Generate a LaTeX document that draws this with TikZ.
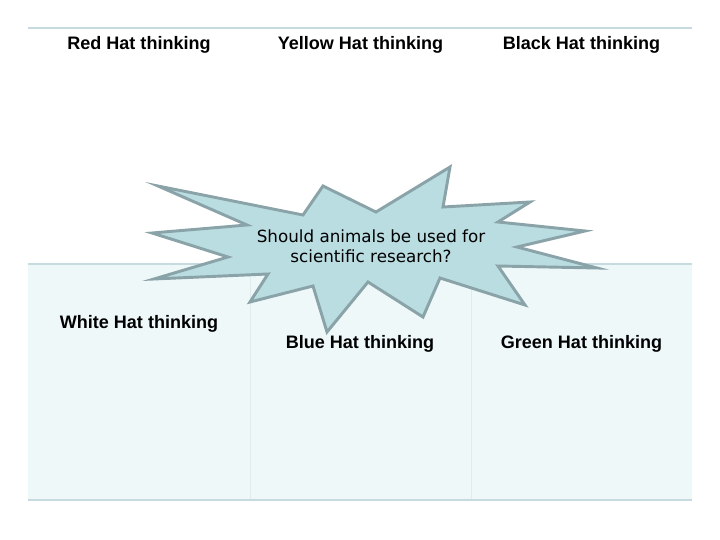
\documentclass[tikz,border=0pt]{standalone}
\usepackage{fontspec}
\setmainfont{Liberation Sans}
\newfontfamily\bubblefont{DejaVu Sans}
\definecolor{ruleblue}{HTML}{C5DBDF}
\definecolor{rowtint}{HTML}{EEF8F9}
\definecolor{cellgrey}{HTML}{E0EBED}
\definecolor{burstfill}{HTML}{B9DDE1}
\definecolor{burstedge}{HTML}{8AA3A8}
\begin{document}
\begin{tikzpicture}[x=0.03cm,y=-0.03cm,
  % six hats: plain top row, tinted bottom row, one cell per hat
  hat/.style={font=\fontsize{15.4}{18}\selectfont\bfseries, inner sep=0pt, anchor=base},
  rule/.style={draw=ruleblue, line width=2.4pt},
  midrule/.style={draw=ruleblue, line width=1.6pt},
  cellsep/.style={draw=cellgrey, line width=0.8pt},
  % the question burst laid over the middle of the table
  burst/.style={draw=burstedge, fill=burstfill, line width=2.5pt, line join=miter},
  question/.style={font=\bubblefont\fontsize{14.3}{17}\selectfont, align=center, inner sep=0pt},
  ]
  \useasboundingbox (0,0) rectangle (720,540);
  % ---- table ----------------------------------------------------------------
  \fill[rowtint] (28,264) rectangle (692,500);
  \draw[cellsep] (250,264) -- (250,500);
  \draw[cellsep] (471,264) -- (471,500);
  \draw[rule]    (28,28)   -- (692,28);
  \draw[midrule] (28,264)  -- (692,264);
  \draw[rule]    (28,500)  -- (692,500);
  % ---- hats -----------------------------------------------------------------
  \node[hat] (red)    at (139,49.5) {Red Hat thinking};
  \node[hat] (yellow) at (360.5,49.5) {Yellow Hat thinking};
  \node[hat] (black)  at (581.5,49.5) {Black Hat thinking};
  \node[hat] (white)  at (139,328.5) {White Hat thinking};
  \node[hat] (blue)   at (360,349) {Blue Hat thinking};
  \node[hat] (green)  at (581.5,349) {Green Hat thinking};
  % ---- burst (tips and notches, clockwise from the upper left tip) ----------
  \draw[burst] (158,186) -- (303,215) -- (323,186) -- (376,212) -- (450,167)
    -- (443,207) -- (530,202) -- (498,222) -- (585,231) -- (517,247)
    -- (597,268) -- (498,266) -- (525,305) -- (440,278) -- (423,317)
    -- (368,282) -- (327,332) -- (313,286) -- (250,302) -- (268,274)
    -- (154,279) -- (228,257) -- (152,233) -- (247,225) -- cycle;
  \node[question] (quest) at (371,246) {Should animals be used for\\scientific research?};
\end{tikzpicture}
\end{document}
